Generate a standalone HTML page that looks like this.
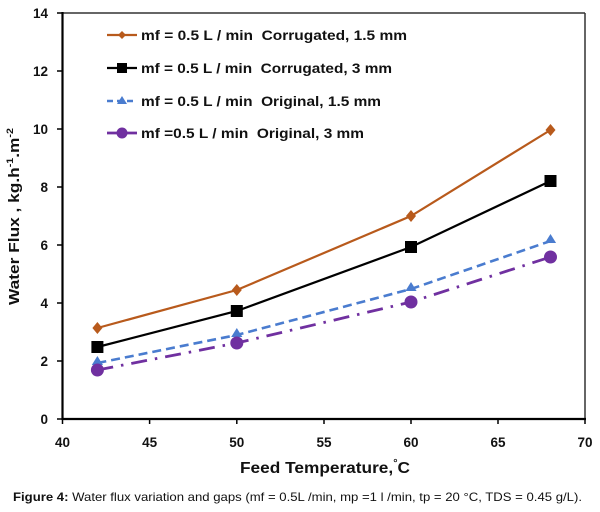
<!DOCTYPE html>
<html><head><meta charset="utf-8"><style>
html,body{margin:0;padding:0;background:#fff;}
svg{display:block;}
text{white-space:pre;}
</style></head><body>
<svg width="600" height="512" viewBox="0 0 600 512" xmlns="http://www.w3.org/2000/svg" font-family="'Liberation Sans', sans-serif">
<rect width="600" height="512" fill="#fff"/>
<!-- frame -->
<line x1="62.5" y1="13" x2="585" y2="13" stroke="#333" stroke-width="1.5"/>
<line x1="585" y1="13" x2="585" y2="419" stroke="#333" stroke-width="1.5"/>
<line x1="62.5" y1="12" x2="62.5" y2="420" stroke="#000" stroke-width="2.2"/>
<line x1="61.5" y1="419" x2="586" y2="419" stroke="#000" stroke-width="2.2"/>
<!-- ticks -->
<g stroke="#000" stroke-width="1.5">
<line x1="57" y1="419" x2="62" y2="419"/><line x1="57" y1="361" x2="62" y2="361"/>
<line x1="57" y1="303" x2="62" y2="303"/><line x1="57" y1="245" x2="62" y2="245"/>
<line x1="57" y1="187" x2="62" y2="187"/><line x1="57" y1="129" x2="62" y2="129"/>
<line x1="57" y1="71" x2="62" y2="71"/><line x1="57" y1="13" x2="62" y2="13"/>
<line x1="62.5" y1="419" x2="62.5" y2="424"/><line x1="149.6" y1="419" x2="149.6" y2="424"/>
<line x1="236.8" y1="419" x2="236.8" y2="424"/><line x1="324" y1="419" x2="324" y2="424"/>
<line x1="411" y1="419" x2="411" y2="424"/><line x1="498" y1="419" x2="498" y2="424"/>
<line x1="585" y1="419" x2="585" y2="424"/>
</g>
<g font-size="13.5" font-weight="bold" fill="#111" text-anchor="end">
<text x="48" y="424">0</text><text x="48" y="366">2</text><text x="48" y="308">4</text>
<text x="48" y="250">6</text><text x="48" y="192">8</text><text x="48" y="134">10</text>
<text x="48" y="76">12</text><text x="48" y="18">14</text>
</g>
<g font-size="13.5" font-weight="bold" fill="#111" text-anchor="middle">
<text x="62.5" y="447">40</text><text x="149.6" y="447">45</text><text x="236.8" y="447">50</text>
<text x="324" y="447">55</text><text x="411" y="447">60</text><text x="498" y="447">65</text>
<text x="585" y="447">70</text>
</g>
<!-- axis titles -->
<text x="240" y="473" font-size="16" font-weight="bold" fill="#111" textLength="170" lengthAdjust="spacingAndGlyphs">Feed Temperature,<tspan font-size="10" dy="-7">°</tspan><tspan dy="7">C</tspan></text>
<text transform="translate(19,305) rotate(-90)" font-size="14.5" font-weight="bold" fill="#111" textLength="177" lengthAdjust="spacingAndGlyphs">Water Flux , kg.h<tspan font-size="9" dy="-6">-1</tspan><tspan dy="6">.m</tspan><tspan font-size="9" dy="-6">-2</tspan></text>
<!-- series 1 brown diamond -->
<polyline points="97.4,328 236.8,290 411,216 550.5,130" fill="none" stroke="#B85A1C" stroke-width="2.2"/>
<g fill="#B85A1C">
<polygon points="97.4,322 102.4,328 97.4,334 92.4,328"/>
<polygon points="236.8,284 241.8,290 236.8,296 231.8,290"/>
<polygon points="411,210 416,216 411,222 406,216"/>
<polygon points="550.5,124 555.5,130 550.5,136 545.5,130"/>
</g>
<!-- series 2 black square -->
<polyline points="97.4,347 236.8,311 411,247 550.5,181" fill="none" stroke="#000" stroke-width="2.2"/>
<g fill="#000">
<rect x="91.4" y="341" width="12" height="12"/>
<rect x="230.8" y="305" width="12" height="12"/>
<rect x="405" y="241" width="12" height="12"/>
<rect x="544.5" y="175" width="12" height="12"/>
</g>
<!-- series 3 blue triangle dashed -->
<polyline points="97.4,363 236.8,335 411,289 550.5,241" fill="none" stroke="#4A7CCF" stroke-width="2.6" stroke-dasharray="9,5"/>
<g fill="#4A7CCF">
<polygon points="97.4,356 103,365 91.8,365"/>
<polygon points="236.8,328 242.4,337 231.2,337"/>
<polygon points="411,282 416.6,291 405.4,291"/>
<polygon points="550.5,234 556.1,243 544.9,243"/>
</g>
<!-- series 4 purple circle dash-dot -->
<polyline points="97.4,370 236.8,343 411,302 550.5,257" fill="none" stroke="#7030A0" stroke-width="2.8" stroke-dasharray="16,8,2.5,8"/>
<g fill="#7030A0">
<circle cx="97.4" cy="370" r="6.5"/>
<circle cx="236.8" cy="343" r="6.5"/>
<circle cx="411" cy="302" r="6.5"/>
<circle cx="550.5" cy="257" r="6.5"/>
</g>
<!-- legend -->
<line x1="107" y1="35" x2="137" y2="35" stroke="#B85A1C" stroke-width="2.2"/>
<polygon points="122,31 126,35 122,39 118,35" fill="#B85A1C"/>
<line x1="107" y1="68" x2="137" y2="68" stroke="#000" stroke-width="2.2"/>
<rect x="117" y="63" width="10" height="10" fill="#000"/>
<line x1="107" y1="101" x2="137" y2="101" stroke="#4A7CCF" stroke-width="2.6" stroke-dasharray="6,4"/>
<polygon points="122,96 127,104 117,104" fill="#4A7CCF"/>
<line x1="107" y1="133" x2="137" y2="133" stroke="#7030A0" stroke-width="2.8"/>
<circle cx="122" cy="133" r="5.5" fill="#7030A0"/>
<g font-size="14" font-weight="bold" fill="#111">
<text x="141" y="40" textLength="266" lengthAdjust="spacingAndGlyphs">mf = 0.5 L / min  Corrugated, 1.5 mm</text>
<text x="141" y="73" textLength="251" lengthAdjust="spacingAndGlyphs">mf = 0.5 L / min  Corrugated, 3 mm</text>
<text x="141" y="106" textLength="240" lengthAdjust="spacingAndGlyphs">mf = 0.5 L / min  Original, 1.5 mm</text>
<text x="141" y="138" textLength="223" lengthAdjust="spacingAndGlyphs">mf =0.5 L / min  Original, 3 mm</text>
</g>
<!-- caption -->
<text x="13" y="501" font-size="12" fill="#111" textLength="569" lengthAdjust="spacingAndGlyphs"><tspan font-weight="bold">Figure 4:</tspan> Water flux variation and gaps (mf = 0.5L /min, mp =1 l /min, tp = 20 °C, TDS = 0.45 g/L).</text>
</svg>
</body></html>
